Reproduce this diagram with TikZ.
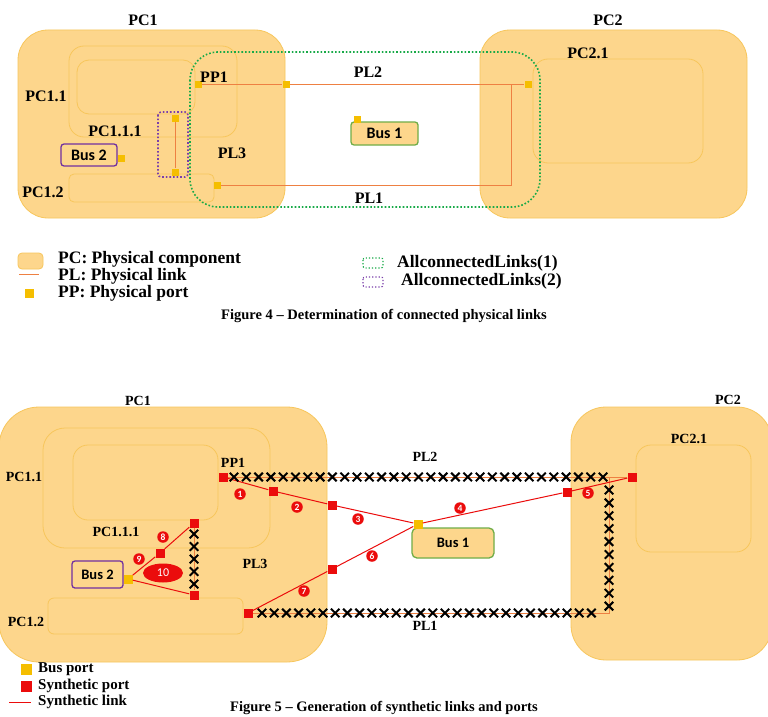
\documentclass[tikz,border=0pt]{standalone}
\usepackage{fontspec}
\setmainfont{Liberation Serif}
\newfontfamily\busfont{Carlito}
\usetikzlibrary{positioning,shapes.misc,shapes.geometric}
\definecolor{pcfill}{RGB}{253,214,140}
\definecolor{pcedge}{RGB}{247,198,92}
\definecolor{portyellow}{RGB}{245,190,0}
\definecolor{linkorange}{RGB}{238,128,66}
\definecolor{synred}{RGB}{235,12,12}
\definecolor{allgreen}{RGB}{24,170,72}
\definecolor{allpurple}{RGB}{122,62,170}
\definecolor{busgreen}{RGB}{112,173,71}
\definecolor{buspurple}{RGB}{112,48,160}

\begin{document}
\begin{tikzpicture}[x=1pt,y=-1pt,
  pcbox/.style={draw=pcedge,fill=pcfill,line width=0.8pt,inner sep=0pt},
  lbl/.style={font=\fontsize{16}{18}\selectfont\bfseries,inner sep=0pt},
  slbl/.style={font=\fontsize{14}{16}\selectfont\bfseries,inner sep=0pt},
  legtext/.style={font=\fontsize{17.5}{19}\selectfont\bfseries,inner sep=0pt,anchor=west},
  slegtext/.style={font=\fontsize{15}{16}\selectfont\bfseries,inner sep=0pt,anchor=west},
  captext/.style={font=\fontsize{14.5}{16}\selectfont\bfseries,inner sep=0pt},
  busbox/.style={fill=pcfill,rounded corners=3pt,line width=1.3pt,inner sep=0pt,font=\busfont\bfseries},
  port/.style={rectangle,fill=portyellow,minimum size=7pt,inner sep=0pt},
  synport/.style={rectangle,fill=synred,minimum size=9pt,inner sep=0pt},
  physlink/.style={draw=linkorange,line width=1pt},
  synlink/.style={draw=synred,line width=1pt},
  xmark/.style={cross out,draw=black,line width=2pt,minimum size=6.5pt,inner sep=0pt},
  num/.style={circle,fill=synred,text=white,inner sep=0pt,minimum size=11.5pt,font=\busfont\bfseries\fontsize{9.5}{9.5}\selectfont},
  allone/.style={draw=allgreen,dotted,line width=1.6pt},
  alltwo/.style={draw=allpurple,dotted,line width=1.6pt}]
\useasboundingbox[fill=white] (0,0) rectangle (768,717);

\node[pcbox,rounded corners=30pt,minimum width=267pt,minimum height=188pt] (pc1) at (151.5,124) {};
\node[pcbox,rounded corners=15pt,minimum width=168pt,minimum height=91pt] (pc11) at (153,91.5) {};
\node[pcbox,rounded corners=12pt,minimum width=118pt,minimum height=54pt] (pc111) at (136,87) {};
\node[pcbox,rounded corners=5pt,minimum width=145pt,minimum height=28pt] (pc12) at (141.5,188) {};
\node[pcbox,rounded corners=30pt,minimum width=267pt,minimum height=188pt] (pc2) at (613.5,124) {};
\node[pcbox,rounded corners=15pt,minimum width=170pt,minimum height=104pt] (pc21) at (618,111) {};
\node[lbl] (pc1lbl) at (143,20) {PC1};
\node[lbl] (pc2lbl) at (608,20) {PC2};
\node[lbl] (pc11lbl) at (46,96) {PC1.1};
\node[lbl] (pc111lbl) at (115,131) {PC1.1.1};
\node[lbl] (pc12lbl) at (43,192) {PC1.2};
\node[lbl] (pc21lbl) at (588,53) {PC2.1};
\node[busbox,draw=buspurple,minimum width=56pt,minimum height=22pt,font=\busfont\bfseries\fontsize{16}{18}\selectfont] (bus2) at (89,155) {Bus 2};
\node[busbox,draw=busgreen,minimum width=67pt,minimum height=23pt,font=\busfont\bfseries\fontsize{16}{18}\selectfont] (bus1) at (384.5,133.5) {Bus 1};

\draw[allone,rounded corners=28pt] (190,52) rectangle (540,207);
\draw[alltwo,rounded corners=3pt] (158,112) rectangle (188,177);

\node[port] (pp1) at (198,84) {};
\node[port] (p2) at (286,84) {};
\node[port] (pc2p) at (528,84) {};
\node[port] (pl1a) at (217,185) {};
\node[port] (pl3a) at (175,118) {};
\node[port] (pl3b) at (175,172) {};
\node[port] (bus2p) at (121,158) {};
\node[port] (bus1p) at (357,119) {};
\coordinate (bend1) at (511,185);
\draw[physlink] (pp1) -- (p2) -- (pc2p);
\draw[physlink] (pl1a) -- (bend1) |- (pc2p);
\draw[physlink] (pl3a) -- (pl3b);
\node[lbl] (pp1lbl) at (214,77) {PP1};
\node[lbl] (pl2lbl) at (368,72) {PL2};
\node[lbl] (pl1lbl) at (369,198) {PL1};
\node[lbl] (pl3lbl) at (232,153) {PL3};

\draw[pcbox,rounded corners=4pt] (18,253) rectangle (43,269);
\node[legtext] (legpc) at (58,259) {PC: Physical component};
\draw[physlink] (19,274) -- (39,274);
\node[legtext] (legpl) at (58,276) {PL: Physical link};
\node[port,minimum size=9pt] (legport) at (29,293) {};
\node[legtext] (legpp) at (58,293) {PP: Physical port};
\draw[allone,line width=1.2pt,rounded corners=2pt] (363,258) rectangle (383,268);
\node[legtext] (legall1) at (397,263) {AllconnectedLinks(1)};
\draw[alltwo,line width=1.2pt,rounded corners=2pt] (363,277) rectangle (383,287);
\node[legtext] (legall2) at (401,281) {AllconnectedLinks(2)};
\node[captext] (cap4) at (384,316) {Figure 4 -- Determination of connected physical links};

\node[pcbox,rounded corners=40pt,minimum width=328pt,minimum height=255pt] (bpc1) at (163,534.5) {};
\node[pcbox,rounded corners=22pt,minimum width=227pt,minimum height=120pt] (bpc11) at (156.5,488) {};
\node[pcbox,rounded corners=15pt,minimum width=145pt,minimum height=75pt] (bpc111) at (145.5,482.5) {};
\node[pcbox,rounded corners=6pt,minimum width=195pt,minimum height=36pt] (bpc12) at (145.5,616) {};
\node[pcbox,rounded corners=35pt,minimum width=201pt,minimum height=253pt] (bpc2) at (671.5,533.5) {};
\node[pcbox,rounded corners=15pt,minimum width=115pt,minimum height=107pt] (bpc21) at (693.5,498.5) {};
\node[slbl] (bpc1lbl) at (138,401) {PC1};
\node[slbl] (bpc2lbl) at (728,400) {PC2};
\node[slbl] (bpc11lbl) at (24,477) {PC1.1};
\node[slbl] (bpc111lbl) at (116,532) {PC1.1.1};
\node[slbl] (bpc12lbl) at (26,622) {PC1.2};
\node[slbl] (bpc21lbl) at (689,439) {PC2.1};
\node[busbox,draw=busgreen,rounded corners=5pt,minimum width=82pt,minimum height=30pt,font=\busfont\bfseries\fontsize{14.5}{16}\selectfont] (bbus1) at (453,543) {Bus 1};
\node[busbox,draw=buspurple,minimum width=51pt,minimum height=27pt,font=\busfont\bfseries\fontsize{14.5}{16}\selectfont] (bbus2) at (97.5,574.5) {Bus 2};

\node[synport] (bpp1) at (223,477) {};
\node[synport] (bs2) at (273,491) {};
\node[synport] (bs3) at (332,505) {};
\node[port,minimum size=9pt] (bb1) at (418,524) {};
\node[synport] (bs4) at (567,492) {};
\node[synport] (bpc2p) at (632,477) {};
\node[synport] (bs6) at (332,569) {};
\node[synport] (bpl1) at (248,613) {};
\node[synport] (bs8) at (194,523) {};
\node[synport] (bs9) at (160,553) {};
\node[synport] (bs10) at (194,595) {};
\node[port,minimum size=9pt] (bb2) at (128,579) {};
\coordinate (bend2) at (609,613);
\draw[physlink] (bpp1) -- (bpc2p);
\draw[physlink] (bpl1) -- (bend2) |- (bpc2p);
\draw[physlink] (bs8) -- (bs10);
\draw[synlink] (bpp1) -- (bs2) -- (bs3) -- (bb1) -- (bs4) -- (bpc2p);
\draw[synlink] (bb1) -- (bs6) -- (bpl1);
\draw[synlink] (bb2) -- (bs9) -- (bs8);
\draw[synlink] (bb2) -- (bs10);
\foreach \i in {0,...,30} \node[xmark] (xa\i) at (234+12.3*\i,477) {};
\foreach \i in {0,...,9} \node[xmark] (xb\i) at (609,490+12.9*\i) {};
\foreach \i in {0,...,27} \node[xmark] (xc\i) at (262+12.2*\i,613) {};
\foreach \i in {0,...,4} \node[xmark] (xd\i) at (194,534+12.5*\i) {};
\node[num] (n1) at (240,494) {1};
\node[num] (n2) at (297,507) {2};
\node[num] (n3) at (358,519) {3};
\node[num] (n4) at (460,508) {4};
\node[num] (n5) at (588,493) {5};
\node[num] (n6) at (372,556) {6};
\node[num] (n7) at (304,591) {7};
\node[num] (n8) at (163,537) {8};
\node[num] (n9) at (139,559) {9};
\node[ellipse,fill=synred,text=white,inner sep=0pt,minimum width=40pt,minimum height=19pt,font=\busfont\fontsize{12}{12}\selectfont] (n10) at (163,573) {10};
\node[slbl] (bpp1lbl) at (233,463) {PP1};
\node[slbl] (bpl2lbl) at (425,457) {PL2};
\node[slbl] (bpl1lbl) at (425,626) {PL1};
\node[slbl] (bpl3lbl) at (255,564) {PL3};

\node[port,minimum size=11pt] (legbus) at (26,669) {};
\node[slegtext] (legbust) at (38,669) {Bus port};
\node[synport,minimum size=11pt] (legsyn) at (26,686) {};
\node[slegtext] (legsynt) at (38,686) {Synthetic port};
\draw[synlink] (9,702) -- (31,702);
\node[slegtext] (leglinkt) at (38,702) {Synthetic link};
\node[captext,anchor=west] (cap5) at (230,708) {Figure 5 -- Generation of synthetic links and ports};
\end{tikzpicture}
\end{document}
